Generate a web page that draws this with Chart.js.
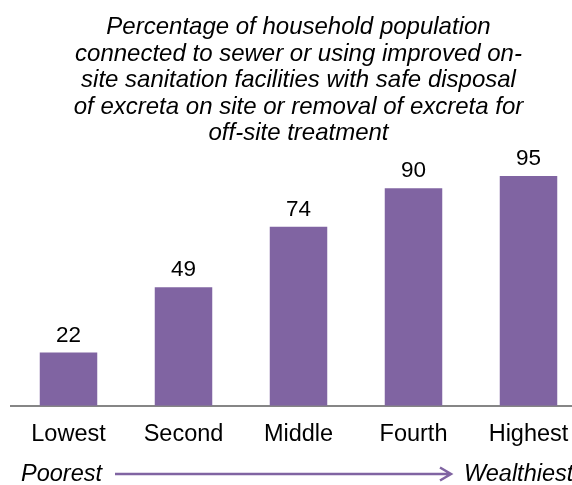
<!DOCTYPE html>
<html>
<head>
<meta charset="utf-8">
<script src="https://cdn.jsdelivr.net/npm/chart.js@4"></script>
<style>
  html, body { margin: 0; padding: 0; background: #fff; overflow: hidden; }
  /* the original is cropped on the right, so the canvas is a bit wider than the window */
  #wrap { width: 572px; height: 485px; overflow: hidden; position: relative; }
  #chart { position: absolute; left: 0; top: 0; }
</style>
</head>
<body>
<div id="wrap"><canvas id="chart" width="586" height="485"></canvas></div>
<script>
// quintile labels and values
const quintiles = ['Lowest', 'Second', 'Middle', 'Fourth', 'Highest'];
const sanitationPct = [22, 49, 74, 90, 95];
const titleLines = [
  'Percentage of household population',
  'connected to sewer or using improved on-',
  'site sanitation facilities with safe disposal',
  'of excreta on site or removal of excreta for',
  'off-site treatment',
];
const wealthEnds = ['Poorest', 'Wealthiest'];

const PURPLE = '#8064A2';
const FONT = '"Liberation Sans", Arial, sans-serif';

// value labels above the bars
const valueLabels = {
  id: 'valueLabels',
  afterDatasetsDraw(chart) {
    const ctx = chart.ctx;
    const meta = chart.getDatasetMeta(0);
    ctx.save();
    ctx.font = `22.5px ${FONT}`;
    ctx.fillStyle = '#000';
    ctx.textAlign = 'center';
    ctx.textBaseline = 'alphabetic';
    meta.data.forEach((bar, i) => {
      ctx.fillText(String(sanitationPct[i]), bar.x, bar.y - 11);
    });
    ctx.restore();
  },
};

// "Poorest ---> Wealthiest" row under the axis
const wealthArrow = {
  id: 'wealthArrow',
  afterDraw(chart) {
    const ctx = chart.ctx;
    const area = chart.chartArea;
    const y = chart.height - 10.5;
    ctx.save();
    ctx.font = `italic 23.5px ${FONT}`;
    ctx.fillStyle = '#000';
    ctx.textBaseline = 'middle';
    ctx.textAlign = 'left';
    ctx.fillText(wealthEnds[0], area.left + 10, y);
    ctx.fillText(wealthEnds[1], area.left + 453, y);
    const x0 = area.left + 104, x1 = area.left + 440;
    ctx.strokeStyle = PURPLE;
    ctx.lineWidth = 2.5;
    ctx.beginPath();
    ctx.moveTo(x0, y - 0.5);
    ctx.lineTo(x1, y - 0.5);
    ctx.moveTo(x1 - 11, y - 7);
    ctx.lineTo(x1, y - 0.5);
    ctx.lineTo(x1 - 11, y + 6);
    ctx.stroke();
    ctx.restore();
  },
};

new Chart(document.getElementById('chart'), {
  type: 'bar',
  data: {
    labels: quintiles,
    datasets: [{
      data: sanitationPct,
      backgroundColor: PURPLE,
      categoryPercentage: 1,
      barPercentage: 0.5,
    }],
  },
  options: {
    responsive: false,
    animation: false,
    layout: { padding: { left: 11, right: 0, top: 0, bottom: 21 } },
    plugins: {
      legend: { display: false },
      tooltip: { enabled: false },
      title: {
        display: true,
        text: titleLines,
        color: '#000',
        font: { family: FONT, size: 24, style: 'italic', weight: 'normal', lineHeight: 1.104 },
        padding: { top: 14.5, bottom: 17 },
      },
    },
    scales: {
      x: {
        grid: { display: true, drawOnChartArea: false, drawTicks: false },
        border: { display: true, color: '#868686', width: 2 },
        ticks: { color: '#000', padding: 15, font: { family: FONT, size: 23.5 } },
      },
      y: { display: false, min: 0, max: 100 },
    },
  },
  plugins: [valueLabels, wealthArrow],
});
</script>
</body>
</html>
